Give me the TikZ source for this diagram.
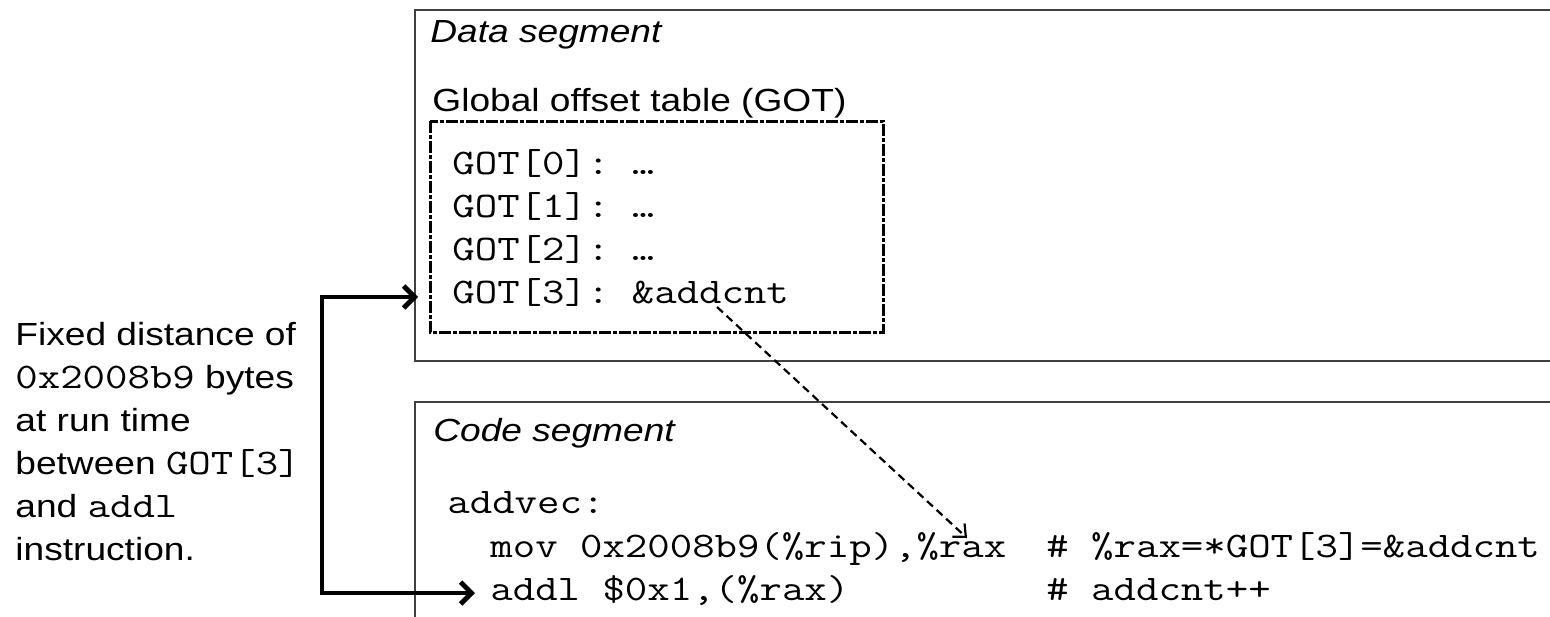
\documentclass[tikz,border=0pt]{standalone}
\usepackage{fontspec}
\setmainfont[FakeStretch=1.16]{Liberation Sans}
\setmonofont[FakeStretch=1.21]{Latin Modern Mono}
\usetikzlibrary{arrows.meta}

\begin{document}
\begin{tikzpicture}[
    x=0.5pt, y=-0.5pt,
    every node/.style={inner sep=0pt, anchor=base west},
    txt/.style={font=\fontsize{16}{21.5}\selectfont, align=left},
    seglabel/.style={font=\fontsize{16}{22}\selectfont\itshape},
    code/.style={font=\fontsize{18}{22}\selectfont\ttfamily},
    segbox/.style={draw=black!75, line width=0.8pt},
    gotbox/.style={draw, line width=1.5pt, dash pattern=on 6pt off 1pt on 2pt off 1pt},
    arrow/.style={{Straight Barb[length=5.5pt,width=11pt]}-{Straight Barb[length=5.5pt,width=11pt]}, line width=2.4pt},
    ptr/.style={-{Straight Barb[length=5pt,width=9pt]}, line width=1.1pt, dash pattern=on 4pt off 2.5pt}
]
    \useasboundingbox (0,0) rectangle (1550,616);
    \clip (0,0) rectangle (1550,616);

    % segments
    \draw[segbox] (415,10) rectangle (1600,361);
    \draw[segbox] (415,402) rectangle (1600,700);
    \node[seglabel] (datalbl) at (430,42) {Data segment};
    \node[seglabel] (codelbl) at (433,441) {Code segment};

    % global offset table
    \node[txt] (gotlbl) at (432,111) {Global offset table (GOT)};
    \draw[gotbox] (430,121) rectangle (883,332);
    \node[code] (got0) at (452,174) {GOT[0]: …};
    \node[code] (got1) at (452,217) {GOT[1]: …};
    \node[code] (got2) at (452,260) {GOT[2]: …};
    \node[code] (got3) at (452,303) {GOT[3]: \&addcnt};

    % code
    \node[code] (addvec) at (447,513) {addvec:};
    \node[code] (mov) at (490,557) {mov 0x2008b9(\%rip),\%rax};
    \node[code] (addl) at (490,600) {addl \$0x1,(\%rax)};
    \node[code] (movcmt) at (1046,557) {\# \%rax=*GOT[3]=\&addcnt};
    \node[code] (addlcmt) at (1046,600) {\# addcnt++};

    % note (anchored on its last line)
    \node[txt] (note) at (15,560) {Fixed distance of\\
        {\ttfamily\fontsize{18}{22}\selectfont 0x2008b9} bytes\\
        at run time\\
        between {\ttfamily\fontsize{18}{22}\selectfont GOT[3]}\\
        and {\ttfamily\fontsize{18}{22}\selectfont addl}\\
        instruction.};

    % arrows
    \coordinate (gotin) at (418,297);
    \coordinate (brk) at (322,593);
    \coordinate (addlin) at (475,593);
    \coordinate (gotptr) at (717,307);
    \coordinate (raxtop) at (967,538);
    \draw[arrow] (gotin) -| (brk) -- (addlin);
    \draw[ptr] (gotptr) -- (raxtop);
\end{tikzpicture}
\end{document}
